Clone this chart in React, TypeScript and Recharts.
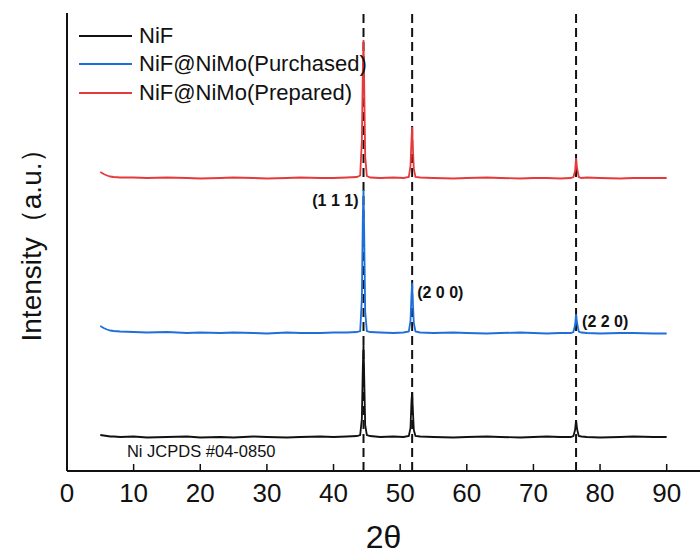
import {
  Legend,
  Line,
  LineChart,
  ReferenceDot,
  ReferenceLine,
  XAxis,
  YAxis,
} from "recharts";

// 2θ sampling positions (deg)
const twoTheta = [
  5, 5.5, 6, 6.5, 7, 8, 10, 12, 15, 18, 20, 23, 25, 28, 30, 33, 35, 38, 40, 42,
  43.5, 44.0, 44.25, 44.4, 44.5, 44.6, 44.75, 45.0, 45.5, 47, 49, 50.5, 51.3,
  51.55, 51.7, 51.8, 51.9, 52.05, 52.3, 53, 55, 58, 60, 63, 65, 68, 70, 72, 74,
  75.6, 76.0, 76.25, 76.4, 76.55, 76.8, 77.2, 78, 80, 83, 85, 88, 90,
];

// stacked intensities (a.u., offset per pattern)
const nif = [
  36, 35.5, 35, 34.5, 34.5, 34, 34.5, 33.5, 34, 34.5, 33.5, 34, 33.5, 34.5, 34,
  33.5, 34, 34.5, 34, 34.5, 35, 36, 52, 105, 126, 96, 46, 36, 35, 34, 34.5, 34,
  35, 43, 70, 79, 62, 41, 35, 34.5, 34, 33.5, 34, 34.5, 34, 33.5, 34, 34.5, 34,
  34, 35, 41, 51, 42, 35, 34.5, 34, 33.5, 34, 34.5, 34, 34,
];

const purchased = [
  145, 143, 141.5, 140.5, 140, 139.5, 139, 138.5, 139, 138, 138.5, 138, 138.5,
  138, 137.5, 138.5, 138, 138, 138.5, 138.5, 139, 140, 172, 255, 281, 240, 160,
  140, 139, 138.5, 138, 138.5, 139.5, 150, 176, 188, 170, 148, 139.5, 138.5, 138,
  138.5, 138, 137.5, 138, 138.5, 138, 137.5, 138, 138, 139, 146, 157, 148, 139.5,
  138.5, 138, 137.5, 138, 138, 137.5, 137.5,
];

const prepared = [
  299, 297, 295.5, 294.5, 294, 293.5, 293.5, 293, 293.5, 293, 292.5, 293, 293.5,
  293, 292.5, 293, 293.5, 293, 293, 293.5, 294, 295.5, 330, 400, 431, 390, 315,
  295, 293.5, 293, 293.5, 293, 294, 305, 331, 344, 325, 302, 294, 293.5, 293,
  292.5, 293, 293.5, 293, 292.5, 293, 293, 292.5, 293, 294, 300, 313, 303, 294,
  293, 293.5, 293, 292.5, 293, 293, 293,
];

const seriesNames = ["NiF", "NiF@NiMo(Purchased)", "NiF@NiMo(Prepared)"];
const seriesColors = ["#111111", "#1e6fd9", "#e8393a"];

const peakPositions = [44.5, 51.8, 76.4];
const xTicks = [0, 10, 20, 30, 40, 50, 60, 70, 80, 90];

const data = twoTheta.map((t, i) => ({
  t,
  nif: nif[i],
  purchased: purchased[i],
  prepared: prepared[i],
}));

const FONT = "'Liberation Sans', Arial, sans-serif";

function LegendBox({ payload }: any) {
  const items = [...(payload || [])].sort(
    (a: any, b: any) => seriesNames.indexOf(a.value) - seriesNames.indexOf(b.value)
  );
  return (
    <div style={{ fontFamily: FONT, fontSize: 22, color: "#111" }}>
      {items.map((p: any) => (
        <div
          key={p.value}
          style={{ display: "flex", alignItems: "center", height: 28.3 }}
        >
          <span
            style={{
              display: "inline-block",
              width: 53,
              height: 0,
              borderTop: `2px solid ${p.color}`,
              marginRight: 7,
            }}
          />
          <span>{p.value}</span>
        </div>
      ))}
    </div>
  );
}

export default function App() {
  return (
    <div style={{ position: "fixed", left: 0, top: 0, width: 700, height: 555, background: "#fff" }}>
      <LineChart
        width={700}
        height={555}
        data={data}
        margin={{ top: 13, right: 0, bottom: 0, left: 0 }}
        style={{ fontFamily: FONT }}
      >
        <XAxis
          dataKey="t"
          type="number"
          domain={[0, 95]}
          ticks={xTicks}
          allowDataOverflow
          height={84}
          tickSize={-7}
          tickMargin={20}
          tickLine={{ stroke: "#111", strokeWidth: 1.5 }}
          axisLine={{ stroke: "#111", strokeWidth: 2 }}
          tick={{ fontSize: 26, fill: "#111" }}
          label={{
            value: "2θ",
            position: "insideBottom",
            offset: 7,
            fontSize: 32,
            fill: "#111",
          }}
        />
        <XAxis
          xAxisId="top"
          orientation="top"
          dataKey="t"
          type="number"
          domain={[0, 95]}
          height={0}
          tick={false}
          tickLine={false}
          axisLine={{ stroke: "#111", strokeWidth: 2 }}
        />
        <YAxis
          type="number"
          domain={[0, 458]}
          allowDataOverflow
          width={67}
          tick={false}
          tickLine={false}
          axisLine={{ stroke: "#111", strokeWidth: 2 }}
          label={{
            value: "Intensity（a.u.）",
            angle: -90,
            position: "insideLeft",
            offset: 31,
            dy: -4,
            fontSize: 28,
            fill: "#111",
            style: { textAnchor: "middle" },
          }}
        />
        <Legend
          layout="horizontal"
          verticalAlign="middle"
          align="center"
          wrapperStyle={{ top: 22, left: 79, width: "auto" }}
          content={<LegendBox />}
        />
        {peakPositions.map((p) => (
          <ReferenceLine
            key={p}
            x={p}
            stroke="#111"
            strokeWidth={2}
            strokeDasharray="9 5"
          />
        ))}
        <Line
          dataKey="nif"
          name={seriesNames[0]}
          stroke={seriesColors[0]}
          strokeWidth={1.8}
          dot={false}
          type="linear"
          isAnimationActive={false}
        />
        <Line
          dataKey="purchased"
          name={seriesNames[1]}
          stroke={seriesColors[1]}
          strokeWidth={1.8}
          dot={false}
          type="linear"
          isAnimationActive={false}
        />
        <Line
          dataKey="prepared"
          name={seriesNames[2]}
          stroke={seriesColors[2]}
          strokeWidth={1.8}
          dot={false}
          type="linear"
          isAnimationActive={false}
        />
        <ReferenceDot
          x={44.5}
          y={271}
          r={0}
          fill="none"
          stroke="none"
          label={{ value: "(1 1 1)", position: "left", offset: 5, fontSize: 16, fontWeight: "bold", fill: "#111" }}
        />
        <ReferenceDot
          x={51.8}
          y={179}
          r={0}
          fill="none"
          stroke="none"
          label={{ value: "(2 0 0)", position: "right", offset: 5, fontSize: 16, fontWeight: "bold", fill: "#111" }}
        />
        <ReferenceDot
          x={76.4}
          y={150}
          r={0}
          fill="none"
          stroke="none"
          label={{ value: "(2 2 0)", position: "right", offset: 6, fontSize: 16, fontWeight: "bold", fill: "#111" }}
        />
        <ReferenceDot
          x={9}
          y={20}
          r={0}
          fill="none"
          stroke="none"
          label={{ value: "Ni JCPDS #04-0850", position: "right", offset: 0, fontSize: 16.5, fill: "#111" }}
        />
      </LineChart>
    </div>
  );
}
